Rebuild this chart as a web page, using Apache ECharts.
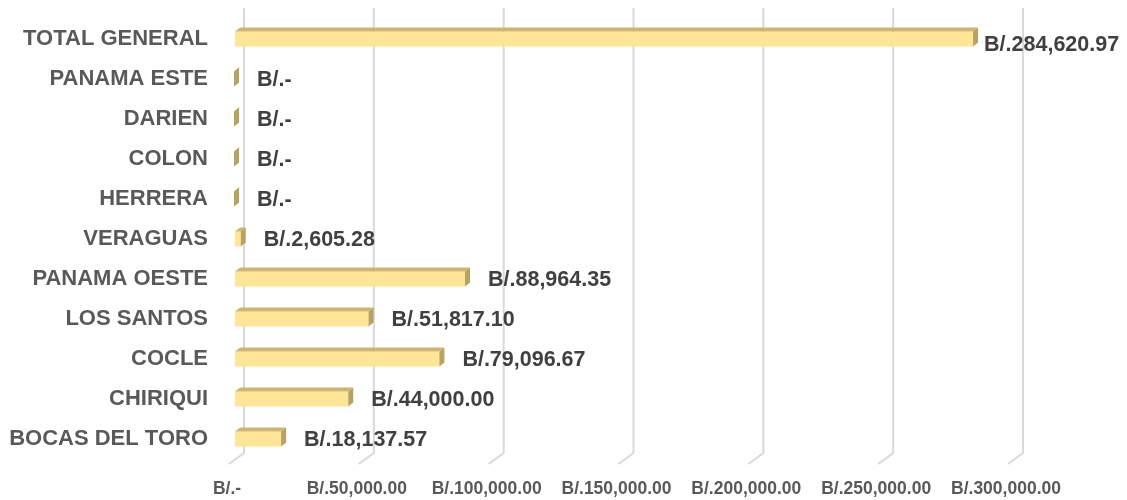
<!DOCTYPE html>
<html>
<head>
<meta charset="utf-8">
<title>Montos por provincia</title>
<script src="https://cdn.jsdelivr.net/npm/echarts@6/dist/echarts.min.js"></script>
<style>
  html, body { margin: 0; padding: 0; background: #ffffff; }
  #chart { width: 1127px; height: 500px; }
</style>
</head>
<body>
<div id="chart"></div>
<script>
// Provinces, bottom to top as they appear on the category axis
const categories = [
  'BOCAS DEL TORO', 'CHIRIQUI', 'COCLE', 'LOS SANTOS', 'PANAMA OESTE',
  'VERAGUAS', 'HERRERA', 'COLON', 'DARIEN', 'PANAMA ESTE', 'TOTAL GENERAL'
];
const amounts = [
  18137.57, 44000.00, 79096.67, 51817.10, 88964.35,
  2605.28, 0, 0, 0, 0, 284620.97
];
// Value-axis ticks
const tickValues = [0, 50000, 100000, 150000, 200000, 250000, 300000];

const FONT = '"Liberation Sans", Arial, sans-serif';

function money(v) {
  if (v === 0) return 'B/.-';
  return 'B/.' + v.toLocaleString('en-US', { minimumFractionDigits: 2, maximumFractionDigits: 2 });
}

// text width helper, used to keep the last value label inside the canvas
const measureCtx = document.createElement('canvas').getContext('2d');
function textWidth(str, font) {
  measureCtx.font = font;
  return measureCtx.measureText(str).width;
}

// 3D look: front face is pushed left of the back wall, top/side faces go up-right
const FRONT_SHIFT = 9;
const BAR_H = 15;
const DEPTH_X = 5, DEPTH_Y = 4;
const LABEL_FONT = 'bold 21.5px ' + FONT;

function renderBar(params, api) {
  const v = api.value(0);
  const cat = api.value(1);
  const base = api.coord([0, cat]);
  const end = api.coord([v, cat]);
  const x0 = base[0] - FRONT_SHIFT;
  const x1 = end[0] - FRONT_SHIFT - 1;
  const yc = base[1];
  const top = yc - BAR_H / 2;
  const bot = yc + BAR_H / 2;

  const label = money(v);
  const w = textWidth(label, LABEL_FONT);
  let lx = x1 + DEPTH_X + 18;
  let ly = yc + 1;
  const limit = api.getWidth() - 6;
  if (lx + w > limit) {
    // not enough room on the right: pull the label in, just below the bar's top
    lx = x1 + DEPTH_X + 6;
    ly = yc + 6;
  }

  return {
    type: 'group',
    children: [
      {
        type: 'rect',
        shape: { x: x0, y: top, width: Math.max(x1 - x0, 0), height: BAR_H },
        style: { fill: '#FFE597' }
      },
      {
        type: 'polygon',
        shape: { points: [[x0, top], [x1, top], [x1 + DEPTH_X, top - DEPTH_Y], [x0 + DEPTH_X, top - DEPTH_Y]] },
        style: { fill: '#CCB672' }
      },
      {
        type: 'polygon',
        shape: { points: [[x1, top], [x1 + DEPTH_X, top - DEPTH_Y], [x1 + DEPTH_X, bot - DEPTH_Y], [x1, bot]] },
        style: { fill: '#B8A261' }
      },
      {
        type: 'text',
        style: {
          x: lx, y: ly,
          text: label,
          font: LABEL_FONT,
          fill: '#404040',
          align: 'left',
          verticalAlign: 'middle'
        }
      }
    ]
  };
}

// back-wall gridlines that fold onto the floor
function renderGridline(params, api) {
  const cs = params.coordSys;
  const x = api.coord([api.value(0), 0])[0];
  const yTop = cs.y - 11;
  const yFloor = cs.y + cs.height - 6;
  return {
    type: 'polyline',
    shape: { points: [[x, yTop], [x, yFloor], [x - 15, yFloor + 11]] },
    style: { stroke: '#D9D9D9', lineWidth: 2, fill: null }
  };
}

const chart = echarts.init(document.getElementById('chart'), null, { renderer: 'canvas' });
chart.setOption({
  backgroundColor: '#ffffff',
  animation: false,
  grid: { left: 244, right: 104, top: 19, bottom: 41, containLabel: false },
  xAxis: {
    type: 'value',
    min: 0,
    max: 300000,
    interval: 50000,
    axisLine: { show: false },
    axisTick: { show: false },
    splitLine: { show: false },
    axisLabel: {
      margin: 21,
      padding: [0, 34, 0, 0],
      color: '#595959',
      fontFamily: FONT,
      fontWeight: 'bold',
      fontSize: 17.5,
      formatter: money
    }
  },
  yAxis: {
    type: 'category',
    data: categories,
    axisLine: { show: false },
    axisTick: { show: false },
    splitLine: { show: false },
    axisLabel: {
      margin: 36,
      color: '#595959',
      fontFamily: FONT,
      fontWeight: 'bold',
      fontSize: 22
    }
  },
  series: [
    {
      type: 'custom',
      name: 'grid',
      z: 1,
      silent: true,
      clip: false,
      renderItem: renderGridline,
      data: tickValues.map(t => [t, 0])
    },
    {
      type: 'custom',
      name: 'Monto',
      z: 2,
      clip: false,
      renderItem: renderBar,
      data: amounts.map((v, i) => [v, i])
    }
  ]
});
</script>
</body>
</html>
